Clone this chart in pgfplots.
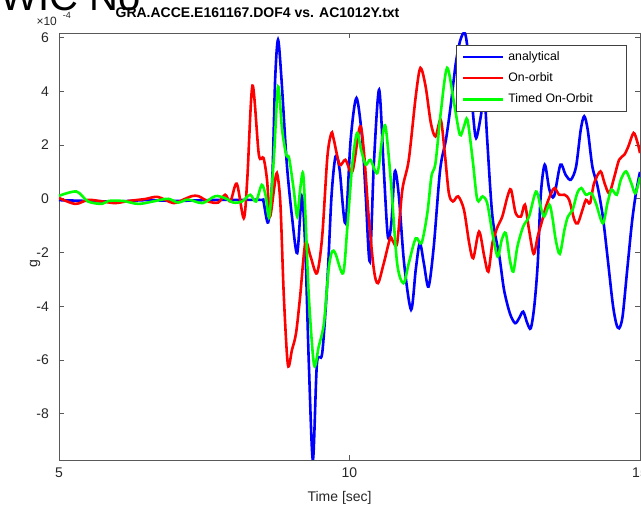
\documentclass[border=0pt]{standalone}
\usepackage{fontspec}
\setmainfont{Liberation Sans}
\usepackage{pgfplots}
\pgfplotsset{compat=1.18}
\definecolor{mblue}{RGB}{0,0,255}
\definecolor{mred}{RGB}{255,0,0}
\definecolor{mgreen}{RGB}{0,255,0}
\definecolor{axgray}{RGB}{38,38,38}
\begin{document}
\begin{tikzpicture}
\path[use as bounding box] (0pt,0pt) rectangle (641pt,508pt);
\node[anchor=base west, font=\fontsize{40}{40}\selectfont, text=black] at (-3pt,497.5pt) {WIC No};
\node[anchor=base west, font=\fontsize{12}{14}\selectfont, text=axgray] at (33pt,482pt) {×10\hspace{6pt}\raisebox{7pt}{\fontsize{9}{10}\selectfont -4}};
\node[anchor=base, font=\bfseries\fontsize{14}{16}\selectfont, text=black] at (257.5pt,490pt) {GRA.ACCE.E161167.DOF4 vs. AC1012Y.txt};
\begin{axis}[
  at={(59pt,48pt)}, anchor=south west,
  scale only axis, width=581pt, height=427pt,
  xmin=5, xmax=15, ymin=-9.72, ymax=6.17,
  xtick={5,10,15}, ytick={-8,-6,-4,-2,0,2,4,6},
  tick align=inside, major tick length=5pt,
  axis line style={black!65, line width=0.6pt},
  tick style={black!65, line width=0.6pt},
  tick label style={font=\fontsize{14}{16}\selectfont, text=axgray},
  /pgf/number format/assume math mode=true,
  xticklabel style={inner sep=0pt, yshift=-8pt},
  yticklabel style={inner sep=0pt, xshift=-10pt},
  xlabel={Time [sec]}, ylabel={g},
  label style={font=\fontsize{14}{16}\selectfont, text=axgray},
  xlabel style={at={(axis description cs:0.483,-0.098)}, anchor=base},
  ylabel style={at={(axis description cs:-0.041,0.46)}, anchor=center, rotate=0},
  legend style={at={(0.9776,0.972)}, anchor=north east, draw=black!75, line width=0.6pt, fill=white,
    font=\fontsize{12.3}{14}\selectfont, inner xsep=5pt, inner ysep=4pt, row sep=5.5pt,
    nodes={text height=9pt, text depth=2.6pt, inner ysep=2pt, inner xsep=4pt}},
  legend cell align=left,
  legend image code/.code={\draw[#1] (0pt,0pt) -- (40pt,0pt);},
  every axis plot/.append style={line width=2.6pt, smooth, tension=0.5},
]
\addplot[mblue] coordinates {
(5.0,-0.05) (5.5,-0.08) (6.0,-0.1) (6.5,-0.05) (7.0,-0.08) (7.5,-0.05) (7.86,-0.04) (8.2,-0.04) (8.49,-0.04)
(8.52,-0.1) (8.60,-0.88) (8.67,0.71) (8.72,4.43) (8.77,5.92) (8.83,4.43) (8.92,1.33) (9.01,-0.66) (9.10,-2.02)
(9.18,0.09) (9.24,-1.90) (9.30,-6.12) (9.37,-9.72) (9.44,-6.12) (9.53,-5.75) (9.62,-3.02) (9.69,0.09)
(9.76,1.58) (9.83,1.08) (9.93,-0.91) (10.02,2.20) (10.12,3.75) (10.22,2.20) (10.28,0.09) (10.35,-2.33)
(10.42,1.33) (10.51,4.06) (10.59,1.08) (10.66,-1.40) (10.72,-0.91) (10.78,1.02) (10.85,0.09) (10.94,-2.40)
(11.06,-4.13) (11.14,-2.64) (11.21,-1.65) (11.28,-2.40) (11.36,-3.27) (11.45,-1.78) (11.56,1.08) (11.66,2.20)
(11.74,3.44) (11.83,5.05) (11.91,5.92) (11.99,6.15) (12.06,5.05) (12.13,3.07) (12.18,2.26) (12.26,3.07)
(12.32,3.94) (12.37,2.20) (12.46,-0.66) (12.58,-2.15) (12.66,-3.39) (12.76,-4.26) (12.85,-4.63) (12.92,-4.44)
(12.99,-4.20) (13.06,-4.63) (13.12,-4.82) (13.18,-4.01) (13.24,-2.40) (13.29,0.09) (13.36,1.27) (13.44,0.34)
(13.52,0.09) (13.63,1.27) (13.72,0.89) (13.81,0.71) (13.90,1.20) (13.98,2.57) (14.04,3.07) (14.10,2.57)
(14.18,1.20) (14.27,0.46) (14.36,-0.66) (14.44,-2.15) (14.53,-3.89) (14.59,-4.63) (14.64,-4.82) (14.70,-4.38)
(14.78,-2.64) (14.86,-0.91) (14.93,0.21) (15.0,1.0)
};
\addlegendentry{analytical}
\addplot[mred] coordinates {
(5.0,0.03) (5.28,-0.19) (5.5,-0.04) (5.75,-0.1) (5.97,-0.16) (6.2,-0.08) (6.48,-0.01) (6.7,0.07) (6.97,-0.16)
(7.15,-0.02) (7.29,0.1) (7.4,0.1) (7.57,-0.1) (7.74,-0.14) (7.86,0.15) (7.95,-0.10) (8.06,0.56) (8.18,-0.72)
(8.24,0.71) (8.33,4.21) (8.44,1.64) (8.52,1.52) (8.58,0.71) (8.63,-0.66) (8.70,0.34) (8.75,0.96) (8.81,-0.16)
(8.87,-3.64) (8.94,-6.18) (9.01,-5.62) (9.08,-5.00) (9.15,-3.64) (9.24,-1.65) (9.33,-2.15) (9.44,-2.77)
(9.53,-1.40) (9.62,1.58) (9.69,2.45) (9.73,2.20) (9.83,1.27) (9.93,1.45) (10.05,1.02) (10.18,2.69) (10.25,1.70)
(10.33,-0.66) (10.42,-2.64) (10.49,-3.14) (10.59,-2.40) (10.70,-1.47) (10.75,-1.59) (10.82,-1.65) (10.91,0.34)
(11.02,1.45) (11.14,3.81) (11.22,4.87) (11.31,4.18) (11.40,2.82) (11.48,2.32) (11.57,2.94) (11.64,1.70)
(11.71,0.21) (11.78,-0.10) (11.87,0.09) (11.97,-0.41) (12.06,-1.65) (12.13,-2.21) (12.23,-1.22) (12.32,-2.15)
(12.39,-2.71) (12.46,-1.65) (12.55,-1.03) (12.63,-0.66) (12.72,0.09) (12.78,0.34) (12.86,-0.53) (12.95,-0.66)
(13.02,-0.22) (13.09,-1.15) (13.17,-2.05) (13.24,-1.40) (13.32,-0.78) (13.38,-0.3) (13.47,0.21) (13.53,0.40)
(13.61,0.15) (13.70,0.15) (13.78,-0.04) (13.87,-0.78) (13.93,-0.91) (14.01,-0.41) (14.07,-0.04) (14.14,-0.16)
(14.21,0.58) (14.32,1.02) (14.39,0.58) (14.47,0.21) (14.56,0.83) (14.64,1.45) (14.73,1.64) (14.80,1.95)
(14.89,2.45) (14.96,2.07) (15.0,1.7)
};
\addlegendentry{On-orbit}
\addplot[mgreen] coordinates {
(5.0,0.11) (5.3,0.27) (5.5,-0.1) (5.74,-0.19) (5.85,-0.08) (6.1,-0.08) (6.37,-0.19) (6.66,-0.08) (6.88,0.0)
(7.05,-0.14) (7.22,-0.03) (7.47,-0.16) (7.69,0.1) (7.86,0.02) (8.0,-0.14) (8.15,-0.10) (8.29,0.15) (8.39,-0.10)
(8.49,0.52) (8.56,0.09) (8.62,-0.66) (8.70,1.58) (8.77,4.18) (8.84,2.57) (8.91,1.64) (8.96,1.52) (9.04,0.34)
(9.10,-0.66) (9.15,0.34) (9.20,0.96) (9.24,-0.53) (9.30,-3.64) (9.39,-6.18) (9.47,-5.50) (9.56,-4.63)
(9.64,-2.64) (9.70,-1.96) (9.76,-2.05) (9.89,-2.77) (9.96,-1.15) (10.05,1.33) (10.13,2.45) (10.20,1.82)
(10.28,1.27) (10.36,1.45) (10.48,0.96) (10.56,2.20) (10.62,2.69) (10.71,0.71) (10.82,-2.40) (10.93,-3.14)
(11.02,-2.40) (11.14,-1.47) (11.24,-1.65) (11.34,-0.53) (11.41,0.83) (11.48,1.33) (11.57,3.19) (11.68,4.87)
(11.80,3.56) (11.90,2.38) (11.97,2.69) (12.03,2.94) (12.12,1.45) (12.20,-0.04) (12.29,0.09) (12.37,-0.16)
(12.46,-1.28) (12.55,-2.15) (12.62,-1.53) (12.69,-1.28) (12.76,-2.27) (12.82,-2.71) (12.89,-1.78) (12.99,-1.03)
(13.09,-0.66) (13.21,0.27) (13.29,-0.3) (13.35,-0.66) (13.44,-0.22) (13.49,-0.66) (13.55,-1.53) (13.62,-2.05)
(13.70,-1.15) (13.76,-0.66) (13.84,-0.41) (13.92,0.21) (13.99,0.40) (14.07,0.15) (14.16,0.21) (14.24,-0.16)
(14.36,-0.91) (14.44,-0.16) (14.51,0.34) (14.60,0.15) (14.67,0.71) (14.76,1.02) (14.85,0.58) (14.92,0.21)
(15.0,0.8)
};
\addlegendentry{Timed On-Orbit\hspace*{25pt}}
\end{axis}
\end{tikzpicture}
\end{document}
